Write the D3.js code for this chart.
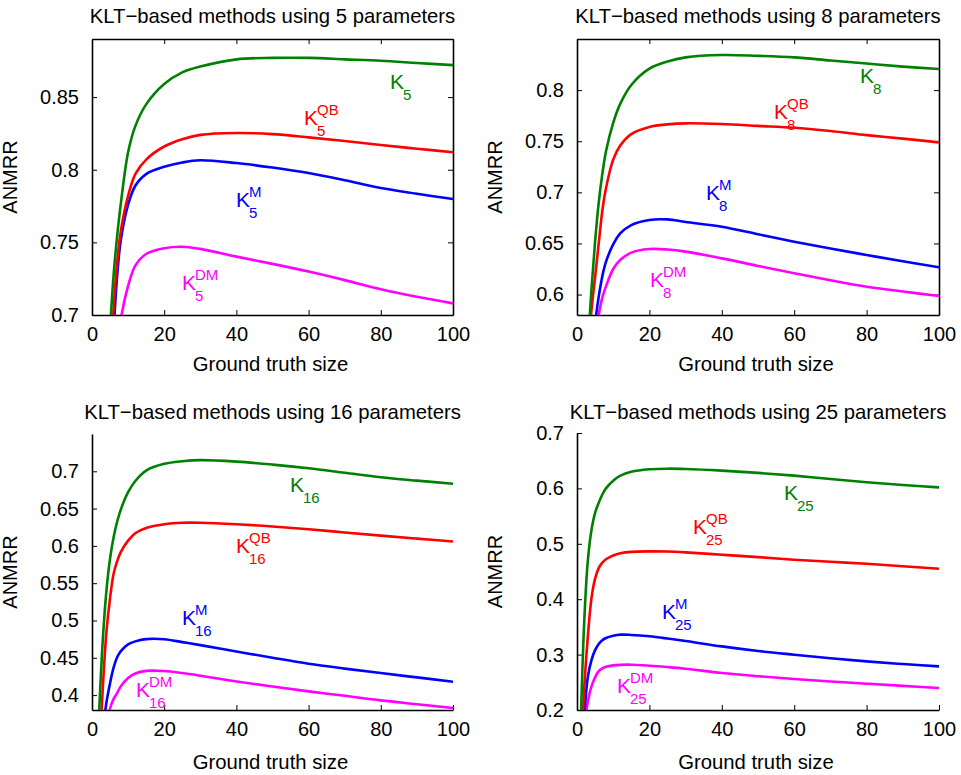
<!DOCTYPE html>
<html>
<head>
<meta charset="utf-8">
<script src="https://cdn.jsdelivr.net/npm/d3@7"></script>
<style>
  body { margin: 0; background: #fff; }
  svg { font-family: "Liberation Sans", Arial, sans-serif; }
  .tick text { font-size: 20px; fill: #000; }
</style>
</head>
<body>
<svg id="chart" width="961" height="775"></svg>
<script>
// ground truth sizes and ANMRR values
const sizes5 = [5, 6, 7, 8, 10, 12, 15, 20, 25, 30, 40, 50, 60, 70, 80, 90, 100];
const k5    = [0.69, 0.728, 0.755, 0.777, 0.812, 0.83, 0.845, 0.859, 0.867, 0.871, 0.876, 0.877, 0.877, 0.876, 0.875, 0.8735, 0.872];
const k5qb  = [0.66, 0.705, 0.737, 0.758, 0.782, 0.797, 0.807, 0.816, 0.821, 0.824, 0.8253, 0.8245, 0.8223, 0.8198, 0.817, 0.8145, 0.812];
const k5m   = [0.64, 0.69, 0.728, 0.752, 0.776, 0.789, 0.797, 0.802, 0.805, 0.8065, 0.8046, 0.8015, 0.7977, 0.7928, 0.7874, 0.7835, 0.7798];
const k5dm  = [0.60, 0.64, 0.672, 0.697, 0.72, 0.734, 0.742, 0.746, 0.747, 0.7455, 0.7402, 0.7352, 0.7299, 0.724, 0.7177, 0.7125, 0.708];

const sizes8 = [3, 4, 5, 6, 7, 8, 10, 12, 15, 20, 25, 30, 40, 50, 60, 70, 80, 90, 100];
const k8    = [0.55, 0.605, 0.652, 0.69, 0.718, 0.74, 0.768, 0.787, 0.805, 0.821, 0.828, 0.832, 0.8343, 0.8335, 0.832, 0.829, 0.826, 0.823, 0.8206];
const k8qb  = [0.54, 0.585, 0.617, 0.65, 0.682, 0.704, 0.732, 0.746, 0.757, 0.764, 0.7665, 0.7675, 0.7668, 0.765, 0.7632, 0.76, 0.756, 0.7525, 0.7489];
const k8m   = [0.50, 0.54, 0.572, 0.598, 0.618, 0.632, 0.649, 0.66, 0.668, 0.673, 0.6735, 0.671, 0.6664, 0.659, 0.6517, 0.645, 0.6387, 0.6325, 0.6267];
const k8dm  = [0.48, 0.52, 0.555, 0.58, 0.597, 0.608, 0.625, 0.634, 0.641, 0.6445, 0.644, 0.642, 0.6354, 0.628, 0.6208, 0.614, 0.6077, 0.603, 0.5986];

const sizes16 = [2, 3, 4, 5, 6, 7, 8, 10, 12, 15, 20, 25, 30, 40, 50, 60, 70, 80, 90, 100];
const k16   = [0.38, 0.475, 0.54, 0.583, 0.612, 0.633, 0.649, 0.672, 0.687, 0.701, 0.71, 0.7135, 0.715, 0.713, 0.709, 0.704, 0.698, 0.692, 0.6875, 0.6834];
const k16qb = [0.32, 0.41, 0.485, 0.53, 0.563, 0.58, 0.592, 0.607, 0.617, 0.624, 0.629, 0.631, 0.631, 0.629, 0.626, 0.6224, 0.618, 0.6138, 0.6098, 0.6058];
const k16m  = [0.29, 0.35, 0.39, 0.416, 0.437, 0.451, 0.459, 0.468, 0.472, 0.475, 0.4748, 0.471, 0.467, 0.4585, 0.45, 0.442, 0.4355, 0.4295, 0.4237, 0.4179];
const k16dm = [0.25, 0.30, 0.35, 0.382, 0.395, 0.403, 0.412, 0.423, 0.429, 0.4325, 0.4322, 0.4295, 0.426, 0.4183, 0.4115, 0.405, 0.399, 0.3929, 0.3878, 0.3827];

const sizes25 = [1, 2, 3, 4, 5, 6, 7, 8, 10, 12, 15, 20, 25, 30, 40, 50, 60, 70, 80, 90, 100];
const k25   = [0.17, 0.36, 0.47, 0.525, 0.556, 0.574, 0.589, 0.60, 0.614, 0.623, 0.63, 0.6345, 0.6356, 0.635, 0.632, 0.628, 0.623, 0.617, 0.611, 0.606, 0.6018];
const k25qb = [0.10, 0.24, 0.333, 0.402, 0.437, 0.456, 0.466, 0.472, 0.479, 0.483, 0.4855, 0.4863, 0.486, 0.4845, 0.4803, 0.476, 0.4713, 0.4675, 0.464, 0.4595, 0.455];
const k25m  = [0.08, 0.19, 0.26, 0.29, 0.308, 0.319, 0.326, 0.33, 0.334, 0.336, 0.3355, 0.333, 0.329, 0.3245, 0.3148, 0.3065, 0.2998, 0.2935, 0.2877, 0.283, 0.2787];
const k25dm = [0.05, 0.17, 0.215, 0.2426, 0.259, 0.27, 0.275, 0.278, 0.2805, 0.2815, 0.2818, 0.28, 0.2775, 0.2745, 0.2668, 0.261, 0.256, 0.2515, 0.2475, 0.2435, 0.2397];

const xTicks = [0, 20, 40, 60, 80, 100];
const yTicks5 = [0.7, 0.75, 0.8, 0.85];
const yTicks8 = [0.6, 0.65, 0.7, 0.75, 0.8];
const yTicks16 = [0.4, 0.45, 0.5, 0.55, 0.6, 0.65, 0.7];
const yTicks25 = [0.2, 0.3, 0.4, 0.5, 0.6, 0.7];

const colors = { k: "#008000", qb: "#ff0000", m: "#0000ff", dm: "#ff00ff" };

const panels = [
  { n: "5", box: true, left: 92, right: 453, top: 39, bottom: 315, yDomain: [0.7, 0.89], yTicks: yTicks5,
    sizes: sizes5, series: { k: k5, qb: k5qb, m: k5m, dm: k5dm },
    titleY: 23, xLabelY: 371,
    labels: { k: [390, 89], qb: [304, 125], m: [236, 207], dm: [182, 290] } },
  { n: "8", box: true, left: 577, right: 939, top: 39, bottom: 315, yDomain: [0.58, 0.85], yTicks: yTicks8,
    sizes: sizes8, series: { k: k8, qb: k8qb, m: k8m, dm: k8dm },
    titleY: 23, xLabelY: 371,
    labels: { k: [860, 83], qb: [774, 119], m: [706, 200], dm: [650, 287] } },
  { n: "16", box: false, left: 92, right: 453, top: 434, bottom: 710, yDomain: [0.38, 0.75], yTicks: yTicks16,
    sizes: sizes16, series: { k: k16, qb: k16qb, m: k16m, dm: k16dm },
    titleY: 419, xLabelY: 769,
    labels: { k: [290, 492], qb: [236, 553], m: [182, 625], dm: [136, 697] } },
  { n: "25", box: false, left: 577, right: 939, top: 433, bottom: 710, yDomain: [0.2, 0.7], yTicks: yTicks25,
    sizes: sizes25, series: { k: k25, qb: k25qb, m: k25m, dm: k25dm },
    titleY: 419, xLabelY: 769,
    labels: { k: [784, 500], qb: [693, 534], m: [662, 619], dm: [617, 693] } }
];

const sups = { k: "", qb: "QB", m: "M", dm: "DM" };
const svg = d3.select("#chart");
const fmt = d3.format("~g");

panels.forEach((p, i) => {
  const x = d3.scaleLinear().domain([0, 100]).range([p.left, p.right]);
  const y = d3.scaleLinear().domain(p.yDomain).range([p.bottom, p.top]);
  const g = svg.append("g");

  g.append("clipPath").attr("id", "clip" + i)
    .append("rect").attr("x", p.left).attr("y", p.top)
    .attr("width", p.right - p.left).attr("height", p.bottom - p.top);

  // axes, ticks pointing inward
  const gx = g.append("g").attr("transform", `translate(0,${p.bottom})`)
    .call(d3.axisBottom(x).tickValues(xTicks).tickSizeInner(-5).tickSizeOuter(0).tickPadding(12));
  const gy = g.append("g").attr("transform", `translate(${p.left},0)`)
    .call(d3.axisLeft(y).tickValues(p.yTicks).tickFormat(fmt).tickSizeInner(-5).tickSizeOuter(0).tickPadding(13));
  const axes = [gx, gy];
  if (p.box) {
    axes.push(g.append("g").attr("transform", `translate(0,${p.top})`)
      .call(d3.axisTop(x).tickValues(xTicks).tickSizeInner(-5).tickSizeOuter(0).tickFormat("")));
    axes.push(g.append("g").attr("transform", `translate(${p.right},0)`)
      .call(d3.axisRight(y).tickValues(p.yTicks).tickSizeInner(-5).tickSizeOuter(0).tickFormat("")));
  }
  axes.forEach(a => {
    a.select(".domain").attr("stroke", "#000").attr("stroke-width", 1.6);
    a.selectAll(".tick line").attr("stroke", "#000").attr("stroke-width", 1);
  });

  const line = d3.line().x((d, j) => x(p.sizes[j])).y(d => y(d)).curve(d3.curveCatmullRom.alpha(0.5));
  ["dm", "m", "qb", "k"].forEach(key => {
    g.append("path").datum(p.series[key])
      .attr("clip-path", `url(#clip${i})`)
      .attr("fill", "none").attr("stroke", colors[key]).attr("stroke-width", 2.6)
      .attr("d", line);
  });

  // curve labels K with subscript / superscript
  Object.keys(p.labels).forEach(key => {
    const [lx, ly] = p.labels[key];
    const t = g.append("g").attr("fill", colors[key]);
    t.append("text").attr("x", lx).attr("y", ly).attr("font-size", 21).text("K");
    t.append("text").attr("x", lx + 13).attr("y", ly + 11).attr("font-size", 15).text(p.n);
    if (sups[key]) t.append("text").attr("x", lx + 13).attr("y", ly - 10).attr("font-size", 15).text(sups[key]);
  });

  const cx = (p.left + p.right) / 2;
  g.append("text").attr("x", cx).attr("y", p.titleY).attr("text-anchor", "middle")
    .attr("font-size", 20.3).text(`KLT\u2212based methods using ${p.n} parameters`);
  g.append("text").attr("x", cx - 2).attr("y", p.xLabelY).attr("text-anchor", "middle")
    .attr("font-size", 20.3).text("Ground truth size");
  const ylx = p.left - 75, yly = (p.top + p.bottom) / 2;
  g.append("text").attr("transform", `translate(${ylx},${yly}) rotate(-90)`)
    .attr("text-anchor", "middle").attr("font-size", 20).text("ANMRR");
});
</script>
</body>
</html>
